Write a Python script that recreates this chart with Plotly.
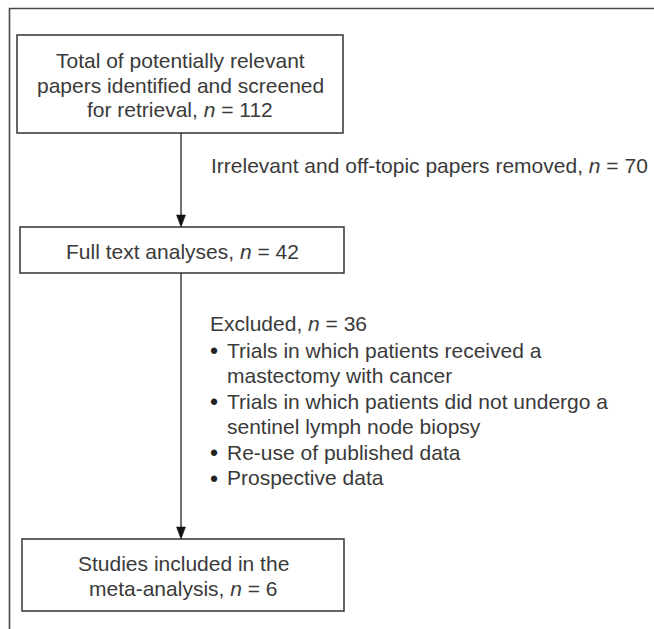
import plotly.graph_objects as go

# ---- content ----
stage_lines = [
    ["Total of potentially relevant", "papers identified and screened", "for retrieval, <i>n</i> = {n}"],
    ["Full text analyses, <i>n</i> = {n}"],
    ["Studies included in the", "meta-analysis, <i>n</i> = {n}"],
]
stage_counts = [112, 42, 6]
removed_label = "Irrelevant and off-topic papers removed, <i>n</i> = {n}"
removed_count = 70
excluded_label = "Excluded, <i>n</i> = {n}"
excluded_count = 36
excluded_reasons = [
    ["Trials in which patients received a", "mastectomy with cancer"],
    ["Trials in which patients did not undergo a", "sentinel lymph node biopsy"],
    ["Re-use of published data"],
    ["Prospective data"],
]

# ---- layout (pixel space) ----
W, H = 654, 629
boxes = [(17, 35, 343, 133), (20, 227, 344, 273), (22, 539, 344, 611)]
line_x = 181
LINE = 24.8
FONT = dict(family="Liberation Sans, Arial, Helvetica, sans-serif", size=21, color="#3a3a3a")
EDGE = "#333333"

fig = go.Figure()
fig.add_trace(go.Scatter(x=[0, W], y=[0, H], mode="markers", marker=dict(opacity=0), hoverinfo="skip", showlegend=False))

shapes = []
annotations = []

# outer frame (cut off at right and bottom)
shapes.append(dict(type="path", path=f"M 9.5 {H+5} L 9.5 8.5 L {W+5} 8.5", line=dict(color="#4a4a4a", width=1.6)))

for (x0, y0, x1, y1), lines, n in zip(boxes, stage_lines, stage_counts):
    shapes.append(dict(type="rect", x0=x0, y0=y0, x1=x1, y1=y1, line=dict(color=EDGE, width=1.5), fillcolor="white"))
    cy = (y0 + y1) / 2 + 1
    k = len(lines)
    for i, t in enumerate(lines):
        y = cy + (i - (k - 1) / 2) * LINE
        annotations.append(dict(x=(x0 + x1) / 2, y=y, text=t.format(n=n), showarrow=False,
                                xanchor="center", yanchor="middle", font=FONT))

# connectors with arrowheads
for (a, b) in [(boxes[0], boxes[1]), (boxes[1], boxes[2])]:
    ytop, ybot = a[3], b[1]
    shapes.append(dict(type="line", x0=line_x, x1=line_x, y0=ytop, y1=ybot - 8, line=dict(color="#222", width=1.3)))
    shapes.append(dict(type="path", path=f"M {line_x-4.5} {ybot-12} L {line_x+4.5} {ybot-12} L {line_x} {ybot} Z",
                       fillcolor="#111", line=dict(color="#111", width=0.5)))

# side texts
annotations.append(dict(x=209, y=165, text=removed_label.format(n=removed_count), showarrow=False,
                        xanchor="left", yanchor="middle", font=FONT))
annotations.append(dict(x=208, y=323, text=excluded_label.format(n=excluded_count), showarrow=False,
                        xanchor="left", yanchor="middle", font=FONT))
y = 350
for reason in excluded_reasons:
    annotations.append(dict(x=208, y=y + 1, text="•", showarrow=False, xanchor="left", yanchor="middle",
                            font=dict(family=FONT["family"], size=23, color="#222")))
    for t in reason:
        annotations.append(dict(x=225, y=y, text=t, showarrow=False, xanchor="left", yanchor="middle", font=FONT))
        y += 25.5

fig.update_layout(
    width=W, height=H, margin=dict(l=0, r=0, t=0, b=0),
    paper_bgcolor="white", plot_bgcolor="white",
    xaxis=dict(range=[0, W], visible=False, fixedrange=True),
    yaxis=dict(range=[H, 0], visible=False, fixedrange=True),
    shapes=shapes, annotations=annotations, showlegend=False,
)
fig.write_html("out.html", config={"displayModeBar": False},
               post_script="document.body.style.margin='0';document.body.style.overflow='hidden';")
